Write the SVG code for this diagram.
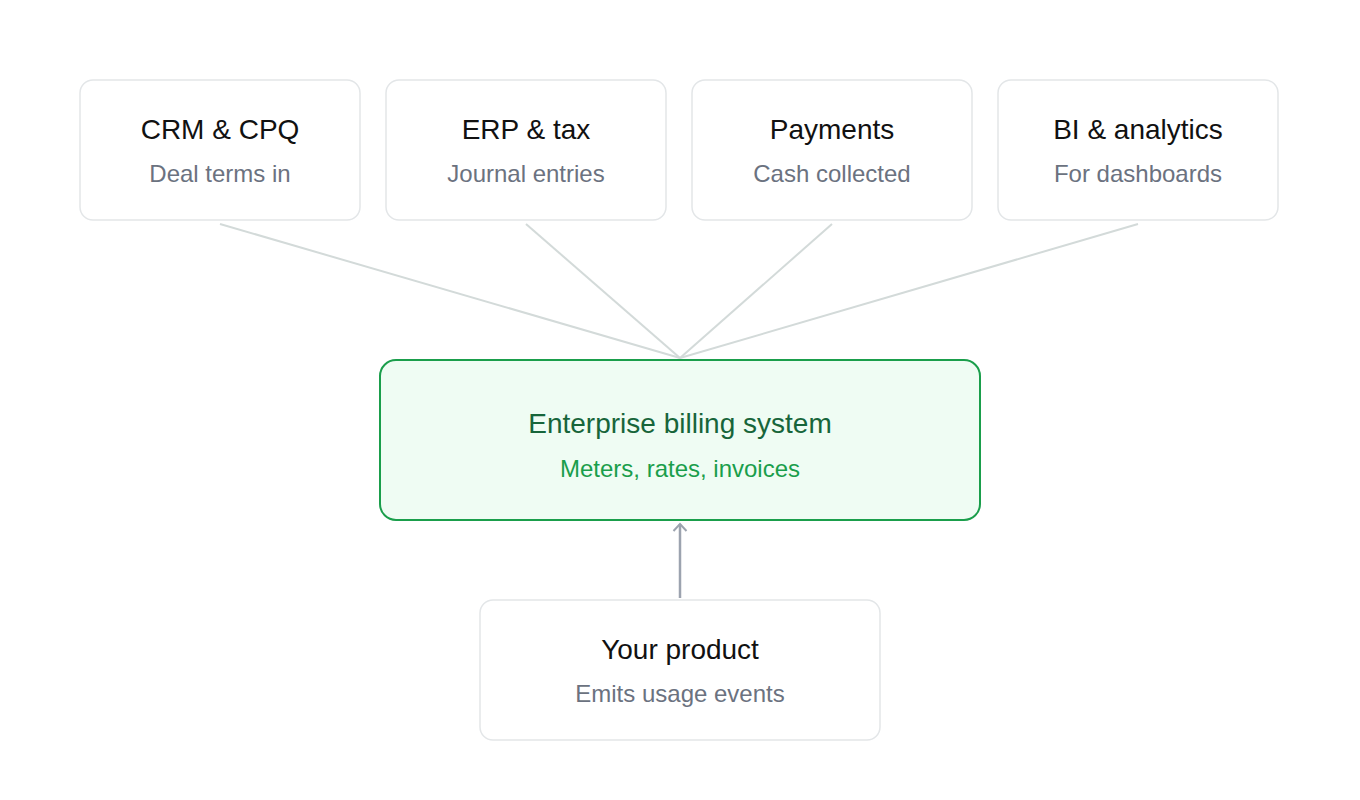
<svg xmlns="http://www.w3.org/2000/svg" width="1360" height="800" viewBox="0 0 1360 800">
<defs>
<style>
.box{fill:#fff;stroke:#e3e6e8;stroke-width:1.5}
.t{font-family:"Liberation Sans",Arial,sans-serif;font-size:28px;fill:#111;text-anchor:middle}
.s{font-family:"Liberation Sans",Arial,sans-serif;font-size:24px;fill:#6b7280;text-anchor:middle}
.fan{stroke:#d3dad9;stroke-width:2;fill:none}
</style>
<marker id="ah" viewBox="0 0 16 16" refX="12" refY="8" markerWidth="16" markerHeight="16" markerUnits="userSpaceOnUse" orient="auto">
<path d="M5 1.5 L12 8 L5 14.5" fill="none" stroke="#9ca3af" stroke-width="2"/>
</marker>
</defs>
<rect width="1360" height="800" fill="#fff"/>
<g id="connectors">
<line class="fan" x1="220" y1="224" x2="680" y2="358"/>
<line class="fan" x1="526" y1="224" x2="680" y2="358"/>
<line class="fan" x1="832" y1="224" x2="680" y2="358"/>
<line class="fan" x1="1138" y1="224" x2="680" y2="358"/>
<line x1="680" y1="598" x2="680" y2="524" stroke="#9ca3af" stroke-width="2.5" marker-end="url(#ah)"/>
</g>
<g id="crm">
<rect class="box" x="80" y="80" width="280" height="140" rx="13"/>
<text class="t" x="220" y="139">CRM &amp; CPQ</text>
<text class="s" x="220" y="182">Deal terms in</text>
</g>
<g id="erp">
<rect class="box" x="386" y="80" width="280" height="140" rx="13"/>
<text class="t" x="526" y="139">ERP &amp; tax</text>
<text class="s" x="526" y="182">Journal entries</text>
</g>
<g id="payments">
<rect class="box" x="692" y="80" width="280" height="140" rx="13"/>
<text class="t" x="832" y="139">Payments</text>
<text class="s" x="832" y="182">Cash collected</text>
</g>
<g id="bi">
<rect class="box" x="998" y="80" width="280" height="140" rx="13"/>
<text class="t" x="1138" y="139">BI &amp; analytics</text>
<text class="s" x="1138" y="182">For dashboards</text>
</g>
<g id="billing">
<rect x="380" y="360" width="600" height="160" rx="16" fill="#effcf3" stroke="#1a9e4b" stroke-width="2"/>
<text class="t" x="680" y="433" style="fill:#17653a">Enterprise billing system</text>
<text class="s" x="680" y="477" style="fill:#1a9e4b">Meters, rates, invoices</text>
</g>
<g id="product">
<rect class="box" x="480" y="600" width="400" height="140" rx="13"/>
<text class="t" x="680" y="659">Your product</text>
<text class="s" x="680" y="702">Emits usage events</text>
</g>
</svg>
